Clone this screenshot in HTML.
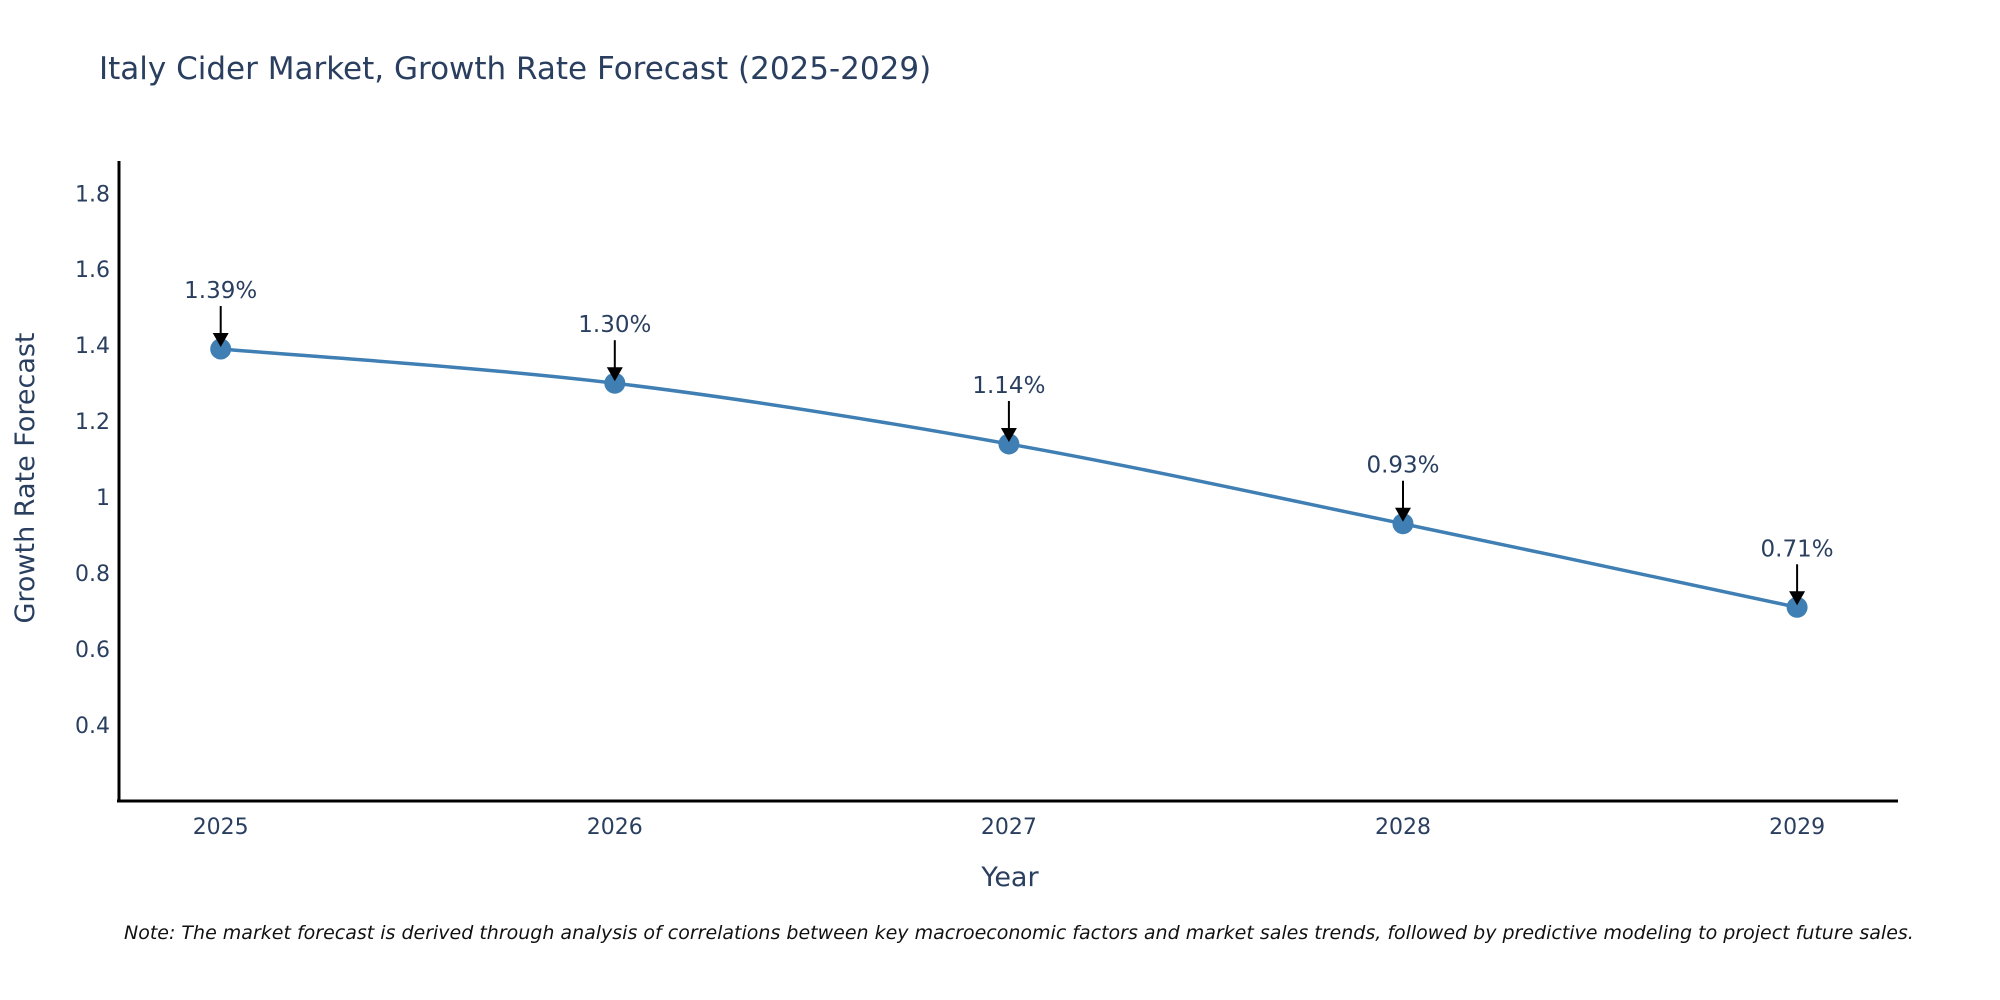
<!DOCTYPE html>
<html><head><meta charset="utf-8"><style>
body{margin:0;background:#fff;overflow:hidden;}
svg{display:block;font-family:"DejaVu Sans","Liberation Sans",sans-serif;}
</style></head><body>
<svg id="chart" width="2000" height="1000" viewBox="0 0 2000 1000">
<text x="99" y="79" font-size="31" fill="#2a3f5f">Italy Cider Market, Growth Rate Forecast (2025-2029)</text>
<g id="yticks"></g>
<g id="xticks"></g>
<line x1="119" y1="161" x2="119" y2="802" stroke="#000" stroke-width="3"/>
<line x1="117" y1="801" x2="1898" y2="801" stroke="#000" stroke-width="3"/>
<g id="series"></g>
<g id="annots"></g>
<text x="1010" y="886" font-size="27" fill="#2a3f5f" text-anchor="middle">Year</text>
<text transform="translate(34,478) rotate(-90)" font-size="27" fill="#2a3f5f" text-anchor="middle">Growth Rate Forecast</text>
<text x="124" y="939" font-size="19" font-style="italic" fill="#111">Note: The market forecast is derived through analysis of correlations between key macroeconomic factors and market sales trends, followed by predictive modeling to project future sales.</text>
</svg>
<script>
const years = [2025, 2026, 2027, 2028, 2029];
const values = [1.39, 1.30, 1.14, 0.93, 0.71];
const labels = ["1.39%", "1.30%", "1.14%", "0.93%", "0.71%"];
const yTicks = [0.4, 0.6, 0.8, 1, 1.2, 1.4, 1.6, 1.8];
const yTickLabels = ["0.4", "0.6", "0.8", "1", "1.2", "1.4", "1.6", "1.8"];

const NS = "http://www.w3.org/2000/svg";
const yMin = 0.2, yMax = 1.885, yTop = 161, yBot = 801;
function yScale(v){ return yBot - (v - yMin) / (yMax - yMin) * (yBot - yTop); }
function xScale(yr){ return 220.7 + (yr - years[0]) * 394.1; }
function mk(tag, attrs, parent){ const e = document.createElementNS(NS, tag); for (const k in attrs) e.setAttribute(k, attrs[k]); parent.appendChild(e); return e; }

const yt = document.getElementById('yticks');
yTicks.forEach((v, i) => {
  const t = mk('text', {x: 110, y: yScale(v) + 8, 'font-size': 22, fill: '#2a3f5f', 'text-anchor': 'end'}, yt);
  
  
  t.textContent = yTickLabels[i];
});
const xt = document.getElementById('xticks');
years.forEach(yr => {
  const t = mk('text', {x: xScale(yr), y: 834, 'font-size': 22, fill: '#2a3f5f', 'text-anchor': 'middle'}, xt);
  
  
  t.textContent = String(yr);
});

const pts = years.map((yr, i) => [xScale(yr), yScale(values[i])]);
let d = `M${pts[0][0]},${pts[0][1]}`;
for (let i = 0; i < pts.length - 1; i++) {
  const p0 = pts[Math.max(0, i - 1)], p1 = pts[i], p2 = pts[i + 1], p3 = pts[Math.min(pts.length - 1, i + 2)];
  const s = 6;
  const c1 = [p1[0] + (p2[0] - p0[0]) / s, p1[1] + (p2[1] - p0[1]) / s];
  const c2 = [p2[0] - (p3[0] - p1[0]) / s, p2[1] - (p3[1] - p1[1]) / s];
  d += ` C${c1[0]},${c1[1]} ${c2[0]},${c2[1]} ${p2[0]},${p2[1]}`;
}
const ser = document.getElementById('series');
const line = mk('path', {d: d, fill: 'none', stroke: '#3f7fb3', 'stroke-width': 3.5}, ser);


pts.forEach(p => {
  const c = mk('circle', {cx: p[0], cy: p[1], r: 10.5, fill: '#3f7fb3'}, ser);
  
  
});

const an = document.getElementById('annots');
pts.forEach((p, i) => {
  const l = mk('line', {x1: p[0], y1: p[1] - 43, x2: p[0], y2: p[1] - 14, stroke: '#000', 'stroke-width': 2}, an);
  
  
  const h = mk('polygon', {points: `${p[0]-8},${p[1]-16} ${p[0]+8},${p[1]-16} ${p[0]},${p[1]-2}`, fill: '#000'}, an);
  
  
  const t = mk('text', {x: p[0], y: p[1] - 51, 'font-size': 23, fill: '#2a3f5f', 'text-anchor': 'middle'}, an);
  
  
  t.textContent = labels[i];
});
</script>
</body></html>
